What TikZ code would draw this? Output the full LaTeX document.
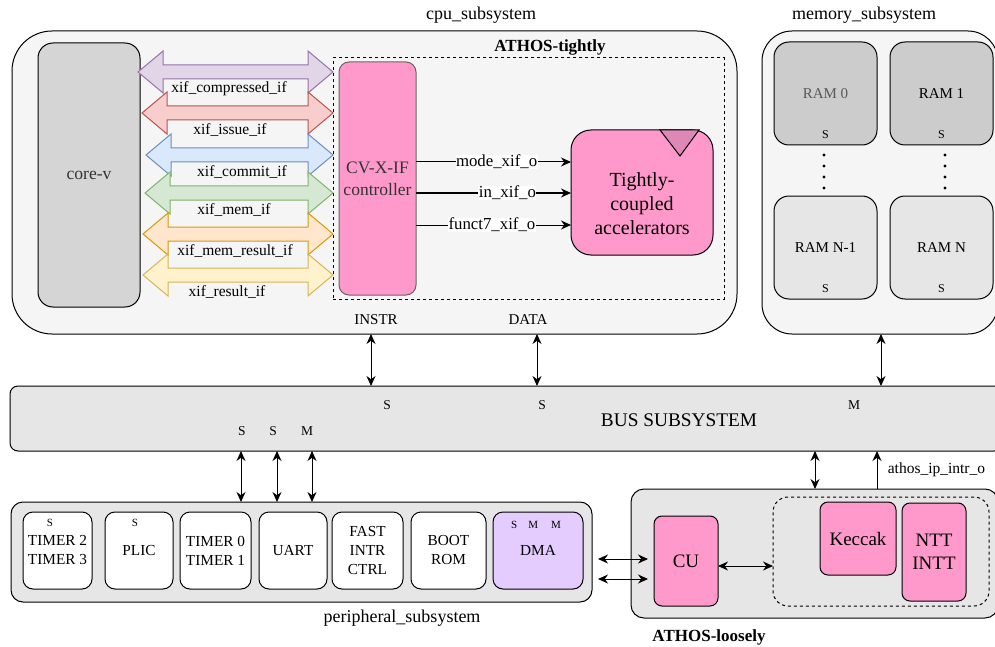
\documentclass[tikz,border=0pt]{standalone}
\usepackage{fontspec}
\setmainfont{Liberation Serif}
\usetikzlibrary{arrows.meta}

\definecolor{subgray}{HTML}{F5F5F5}
\definecolor{busgray}{HTML}{E6E6E6}
\definecolor{coregray}{HTML}{D5D5D5}
\definecolor{ramdark}{HTML}{CCCCCC}
\definecolor{accpink}{HTML}{FF99CC}
\definecolor{tripink}{HTML}{DF88B7}
\definecolor{dmalilac}{HTML}{E5CCFF}
\definecolor{purf}{HTML}{E1D5E7}\definecolor{purd}{HTML}{9673A6}
\definecolor{redf}{HTML}{F8CECC}\definecolor{redd}{HTML}{B85450}
\definecolor{bluf}{HTML}{DAE8FC}\definecolor{blud}{HTML}{6C8EBF}
\definecolor{grnf}{HTML}{D5E8D4}\definecolor{grnd}{HTML}{82B366}
\definecolor{orgf}{HTML}{FFE6CC}\definecolor{orgd}{HTML}{D79B00}
\definecolor{ylwf}{HTML}{FFF2CC}\definecolor{ylwd}{HTML}{D6B656}

\tikzset{
	sys/.style={draw, anchor=north west, inner sep=0pt, outer sep=0pt},
	title/.style={font=\fontsize{18}{21}\selectfont},
	btitle/.style={font=\bfseries\fontsize{17}{20}\selectfont},
	iflabel/.style={font=\fontsize{15.5}{18}\selectfont},
	siglabel/.style={font=\fontsize{16.8}{19}\selectfont, fill=white, inner sep=0.5pt},
	port/.style={font=\fontsize{13.5}{16}\selectfont},
	tinyport/.style={font=\fontsize{11}{13}\selectfont},
	pbox/.style={sys, fill=white, rounded corners=10pt, minimum height=77pt},
	ptext/.style={font=\fontsize{15.3}{19}\selectfont, align=center},
	ram/.style={sys, rounded corners=15pt, minimum width=103pt, minimum height=103pt},
	ramtext/.style={font=\fontsize{15}{18}\selectfont},
	ramport/.style={font=\fontsize{12}{14}\selectfont},
	accel/.style={sys, fill=accpink, rounded corners=8pt},
	acctext/.style={font=\fontsize{19}{23}\selectfont, align=center},
	biarrow/.style={{Stealth[length=10pt,width=9pt]}-{Stealth[length=10pt,width=9pt]}},
	sigarrow/.style={-{Stealth[length=10pt,width=9pt]}},
}

\begin{document}
\begin{tikzpicture}[x=1pt, y=-1pt, line width=1pt]
	\useasboundingbox (0,0) rectangle (995,647);

	%cpu subsystem with core-v and the tightly coupled part
	\node[sys, fill=subgray, rounded corners=40pt, minimum width=725pt, minimum height=303pt] (cpusub) at (12,31) {};
	\node[title] (cputitle) at (481,15) {cpu\_subsystem};
	\node[sys, fill=coregray, rounded corners=15pt, minimum width=102pt, minimum height=264pt] (core) at (38,43) {};
	\node[font=\fontsize{17.6}{20}\selectfont, text=black!80] (coretext) at (core.center) {core-v};
	\node[sys, dashed, minimum width=391pt, minimum height=241pt] (tight) at (333,58) {};
	\node[btitle] (tighttitle) at (550,47) {ATHOS-tightly};
	\node[sys, fill=accpink, draw=black!60, rounded corners=10pt, minimum width=77pt, minimum height=233pt] (ctrl) at (339,62) {};
	\node[font=\fontsize{17.5}{22}\selectfont, align=center, text=black!80] (ctrltext) at (ctrl.center) {CV-X-IF\\controller};
	\node[sys, fill=accpink, rounded corners=20pt, minimum width=142pt, minimum height=125pt] (acc) at (571,130) {};
	\filldraw[fill=tripink] (660,130) -- (699,130) -- (680,156) -- cycle;
	\node[font=\fontsize{20}{24}\selectfont, align=center] (acctext) at (642,204) {Tightly-\\coupled\\accelerators};

	%interface arrows between core-v and the controller
	\foreach \y/\lx/\fc/\dc/\tx/\txt [count=\i] in {
		72/138/purf/purd/229/xif\_compressed\_if,
		113/142/redf/redd/230/xif\_issue\_if,
		155/146/bluf/blud/242/xif\_commit\_if,
		193/145/grnf/grnd/234/xif\_mem\_if,
		234/143/orgf/orgd/235/xif\_mem\_result\_if,
		275/143/ylwf/ylwd/227/xif\_result\_if}
	{
		\filldraw[fill=\fc, draw=\dc] (\lx,\y) -- (\lx+25,\y-21) -- (\lx+25,\y-7) -- (308,\y-7) -- (308,\y-21) -- (333,\y)
			-- (308,\y+21) -- (308,\y+7) -- (\lx+25,\y+7) -- (\lx+25,\y+21) -- cycle;
		\node[iflabel] (if\i) at (\tx,\y+17) {\txt};
	}

	%controller outputs
	\draw[sigarrow] (ctrl.east |- 0,162) -- (acc.west |- 0,162) node[siglabel, pos=0.52] (mode) {mode\_xif\_o};
	\draw[sigarrow] (ctrl.east |- 0,193) -- (acc.west |- 0,193) node[siglabel, pos=0.59] (inx) {in\_xif\_o};
	\draw[sigarrow] (ctrl.east |- 0,225) -- (acc.west |- 0,225) node[siglabel, pos=0.49] (funct) {funct7\_xif\_o};
	\node[font=\fontsize{15}{18}\selectfont] (instr) at (376,320) {INSTR};
	\node[font=\fontsize{15}{18}\selectfont] (data) at (528,320) {DATA};

	%memory subsystem
	\node[sys, fill=subgray, rounded corners=30pt, minimum width=236pt, minimum height=303pt] (memsub) at (762,31) {};
	\node[title] (memtitle) at (864,15) {memory\_subsystem};
	\node[ram, fill=ramdark] (ram0) at (774,42) {};
	\node[ram, fill=ramdark] (ram1) at (890,42) {};
	\node[ram, fill=busgray] (ramn1) at (774,196) {};
	\node[ram, fill=busgray] (ramn) at (890,196) {};
	\node[ramtext, text=black!65] (ram0t) at (ram0.center) {RAM 0};
	\node[ramtext] (ram1t) at (ram1.center) {RAM 1};
	\node[ramtext] (ramn1t) at (ramn1.center) {RAM N-1};
	\node[ramtext] (ramnt) at (ramn.center) {RAM N};
	\foreach \r in {ram0,ram1,ramn1,ramn}
		\node[ramport] (\r s) at ([yshift=-41pt]\r.center) {S};
	\foreach \d in {155,166,177,188}{
		\fill (824,\d) circle (1.6pt);
		\fill (945,\d) circle (1.6pt);
	}

	%bus subsystem
	\node[sys, fill=busgray, rounded corners=8pt, minimum width=992pt, minimum height=65pt] (bus) at (10,386) {};
	\node[font=\fontsize{19.3}{22}\selectfont] (bustext) at (679,420) {BUS SUBSYSTEM};
	\node[port] (bs1) at (387,405) {S};
	\node[port] (bs2) at (542,405) {S};
	\node[port] (bm1) at (854,405) {M};
	\node[port] (bs3) at (242,431) {S};
	\node[port] (bs4) at (273,431) {S};
	\node[port] (bm2) at (307,431) {M};

	%peripheral subsystem
	\node[sys, fill=busgray, rounded corners=12pt, minimum width=581pt, minimum height=100pt] (perisub) at (11,502) {};
	\node[title] (perititle) at (402,618) {peripheral\_subsystem};
	\node[pbox, minimum width=69pt] (tim23) at (23,512) {};
	\node[pbox, minimum width=68pt] (plic) at (105,512) {};
	\node[pbox, minimum width=71pt] (tim01) at (180,512) {};
	\node[pbox, minimum width=68pt] (uart) at (259,512) {};
	\node[pbox, minimum width=71pt] (fast) at (332,512) {};
	\node[pbox, minimum width=75pt] (boot) at (411,512) {};
	\node[pbox, minimum width=90pt, fill=dmalilac] (dma) at (493,512) {};
	\node[ptext] (tim23t) at (tim23.center) {TIMER 2\\TIMER 3};
	\node[ptext] (plict) at (plic.center) {PLIC};
	\node[ptext] (tim01t) at (tim01.center) {TIMER 0\\TIMER 1};
	\node[ptext] (uartt) at (uart.center) {UART};
	\node[ptext] (fastt) at (fast.center) {FAST\\INTR\\CTRL};
	\node[ptext] (boott) at (boot.center) {BOOT\\ROM};
	\node[ptext] (dmat) at (dma.center) {DMA};
	\node[tinyport] (tim23s) at (50,523) {S};
	\node[tinyport] (plics) at (135,523) {S};
	\node[tinyport] (dmas) at (536,525) {S\hspace{11pt}M\hspace{13pt}M};

	%ATHOS loosely coupled part
	\node[sys, fill=busgray, rounded corners=13pt, minimum width=367pt, minimum height=129pt] (loose) at (631,489) {};
	\node[btitle] (loosetitle) at (709,637) {ATHOS-loosely};
	\node[accel, minimum width=64pt, minimum height=90pt] (cu) at (654,516) {};
	\node[sys, dashed, rounded corners=15pt, minimum width=216pt, minimum height=109pt] (accbox) at (773,497) {};
	\node[accel, minimum width=76pt, minimum height=73pt] (keccak) at (820,502) {};
	\node[accel, minimum width=64pt, minimum height=98pt] (ntt) at (902,503) {};
	\node[acctext] (cut) at (cu.center) {CU};
	\node[acctext] (keccakt) at (keccak.center) {Keccak};
	\node[acctext] (nttt) at (ntt.center) {NTT\\INTT};

	%bus connections
	\draw[biarrow] (cpusub.south -| 371,0) -- (bus.north -| 371,0);
	\draw[biarrow] (cpusub.south -| 537,0) -- (bus.north -| 537,0);
	\draw[biarrow] (memsub.south -| 881,0) -- (bus.north -| 881,0);
	\foreach \px in {241,277,312}
		\draw[biarrow] (bus.south -| \px,0) -- (perisub.north -| \px,0);
	\draw[biarrow] (bus.south -| 815,0) -- (loose.north -| 815,0);
	\draw[sigarrow] (loose.north -| 877,0) -- (bus.south -| 877,0);
	\node[iflabel, anchor=west] (intr) at (884,470) {athos\_ip\_intr\_o};

	%DMA and CU links
	\draw[biarrow, shorten <=6pt, shorten >=6pt] (perisub.east |- 0,559) -- (cu.west |- 0,559);
	\draw[biarrow, shorten <=6pt, shorten >=6pt] (perisub.east |- 0,579) -- (cu.west |- 0,579);
	\draw[biarrow] (cu.east |- 0,566) -- (accbox.west |- 0,566);

\end{tikzpicture}
\end{document}
